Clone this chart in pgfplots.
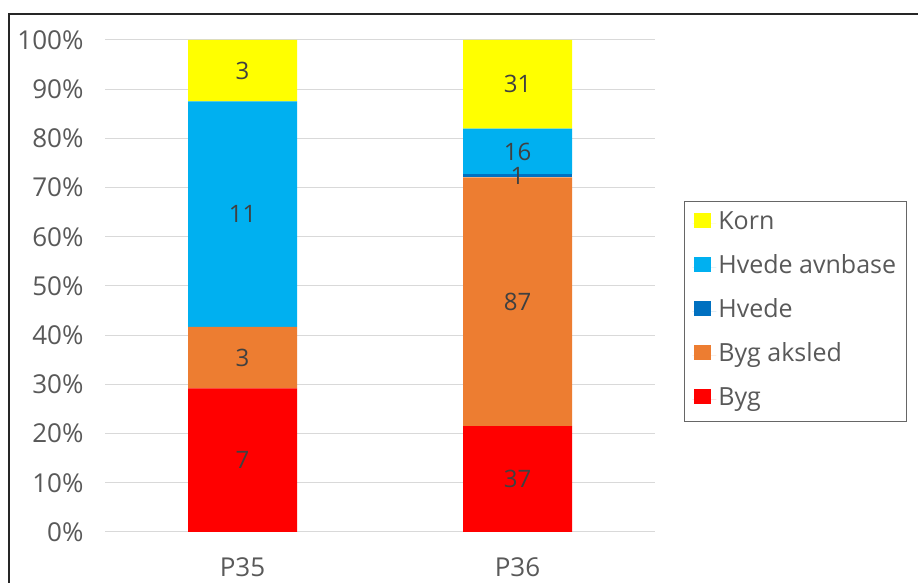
\documentclass[border=0pt]{standalone}
\usepackage{fontspec}
\setmainfont{Open Sans}
\usepackage{pgfplots}
\pgfplotsset{compat=1.18}
\definecolor{korn}{HTML}{FFFF00}
\definecolor{avn}{HTML}{00B0F0}
\definecolor{hvede}{HTML}{0070C0}
\definecolor{aksled}{HTML}{ED7D31}
\definecolor{byg}{HTML}{FF0000}
\definecolor{gridgray}{HTML}{D9D9D9}
\definecolor{txtgray}{HTML}{595959}
\definecolor{lblgray}{HTML}{404040}
\begin{document}
\begin{tikzpicture}[x=1pt,y=1pt]
\path[use as bounding box] (0,0) rectangle (918,583);
\clip (0,0) rectangle (918,583);
\fill[white] (0,0) rectangle (918,583);
\draw[line width=2pt, black!85] (9,-20) rectangle (940,569);
\begin{axis}[
  at={(105pt,51pt)}, anchor=south west, scale only axis,
  width=550pt, height=492pt,
  ybar stacked, bar width=109pt,
  xmin=-0.5, xmax=1.5, ymin=0, ymax=100,
  axis lines*=left,
  y axis line style={draw=none},
  x axis line style={draw=gridgray, line width=1pt},
  xtick={0,1}, xticklabels={P35,P36},
  major x tick style={draw=none},
  extra x ticks={-0.5,0.5,1.5}, extra x tick labels={},
  extra x tick style={tick align=outside, major tick length=10pt, tick style={draw=gridgray, line width=1pt}, grid=none},
  ytick={0,10,...,100},
  yticklabel={\pgfmathprintnumber{\tick}\%},
  ytick style={draw=none},
  ymajorgrids, grid style={draw=gridgray, line width=1pt},
  tick label style={font=\fontsize{26}{30}\selectfont, text=txtgray},
  yticklabel style={xshift=-18pt},
  xticklabel style={yshift=-22pt},
  /pgf/number format/assume math mode=true,
  reverse legend,
  legend cell align=left,
  legend style={at={(1.0527,0.673)}, anchor=north west, draw=black!60, line width=0.8pt,
    font=\fontsize{25}{29}\selectfont, text=txtgray,
    inner xsep=8pt, inner ysep=8pt, row sep=16pt,
    nodes={inner sep=2pt, text height=18pt, text depth=6pt}},
  legend image code/.code={\fill[#1] (2pt,-5pt) rectangle (19pt,10pt); \path (0pt,0pt) -- (24pt,0pt);},
]
\addplot[fill=byg, draw=none] coordinates {(0,29.167) (1,21.512)};
\addlegendentry{Byg}
\addplot[fill=aksled, draw=none] coordinates {(0,12.5) (1,50.581)};
\addlegendentry{Byg aksled}
\addplot[fill=hvede, draw=none] coordinates {(0,0) (1,0.581)};
\addlegendentry{Hvede}
\addplot[fill=avn, draw=none] coordinates {(0,45.833) (1,9.302)};
\addlegendentry{Hvede avnbase}
\addplot[fill=korn, draw=none] coordinates {(0,12.5) (1,18.023)};
\addlegendentry{Korn}
\end{axis}
\begin{axis}[
  at={(105pt,51pt)}, anchor=south west, scale only axis,
  width=550pt, height=492pt,
  xmin=-0.5, xmax=1.5, ymin=0, ymax=100,
  hide axis,
]
\addplot[draw=none, mark=none, nodes near coords, point meta=explicit symbolic,
  every node near coord/.style={anchor=center, text=lblgray, font=\fontsize{24}{28}\selectfont}]
  coordinates {
  (0,14.58) [7] (0,35.42) [3] (0,64.58) [11] (0,93.75) [3]
  (1,10.76) [37] (1,46.80) [87] (1,72.38) [1] (1,77.33) [16] (1,90.99) [31]
  };
\end{axis}
\end{tikzpicture}
\end{document}
